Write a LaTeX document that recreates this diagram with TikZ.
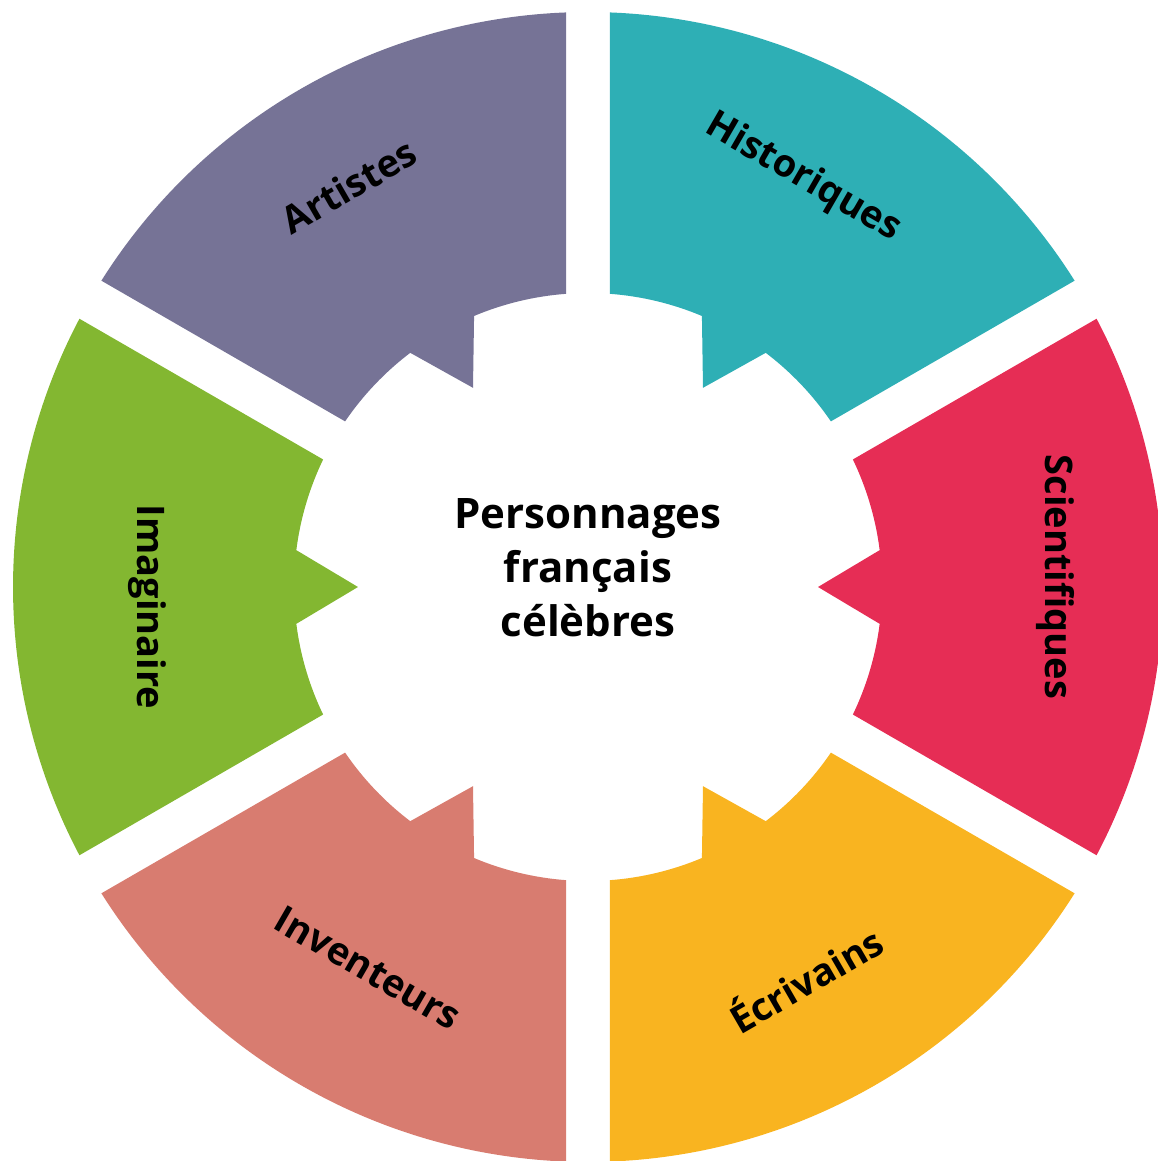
\documentclass[tikz,border=0pt]{standalone}
\usepackage{fontspec}
\setmainfont{Open Sans}
\definecolor{cteal}{HTML}{2EAFB5}
\definecolor{cred}{HTML}{E62D55}
\definecolor{cyellow}{HTML}{F9B420}
\definecolor{csalmon}{HTML}{D87C70}
\definecolor{cgreen}{HTML}{83B731}
\definecolor{cpurple}{HTML}{767396}
\tikzset{
  lab/.style={font=\bfseries\fontsize{19}{22}\selectfont, text=black, inner sep=0pt},
  title/.style={font=\bfseries\fontsize{21}{27}\selectfont, text=black, align=center, inner sep=0pt}
}
\begin{document}
\begin{tikzpicture}[x=0.5pt,y=0.5pt]
\useasboundingbox (-588,-574) rectangle (569,587);
\foreach \c/\col in {60/cteal,0/cred,-60/cyellow,-120/csalmon,180/cgreen,120/cpurple}{
  \fill[\col] (\c+27.81:575) arc[start angle=\c+27.81, end angle=\c-27.81, radius=575]
    -- (\c-25.71:294) arc[start angle=\c-25.71, end angle=\c-7.2, radius=294]
    -- (\c:230) -- (\c+7.2:294) arc[start angle=\c+7.2, end angle=\c+25.71, radius=294] -- cycle;
}
\node[title] (center) at (0,19) {Personnages\\français\\célèbres};
\node[lab, rotate=-30] (hist) at (215,409) {Historiques};
\node[lab, rotate=30] (art) at (-239,401) {Artistes};
\node[lab, rotate=-90] (sci) at (467,10) {Scientifiques};
\node[lab, rotate=-90] (ima) at (-441,-20) {Imaginaire};
\node[lab, rotate=30] (ecr) at (217,-391) {Écrivains};
\node[lab, rotate=-30] (inv) at (-220,-381) {Inventeurs};
\end{tikzpicture}
\end{document}
